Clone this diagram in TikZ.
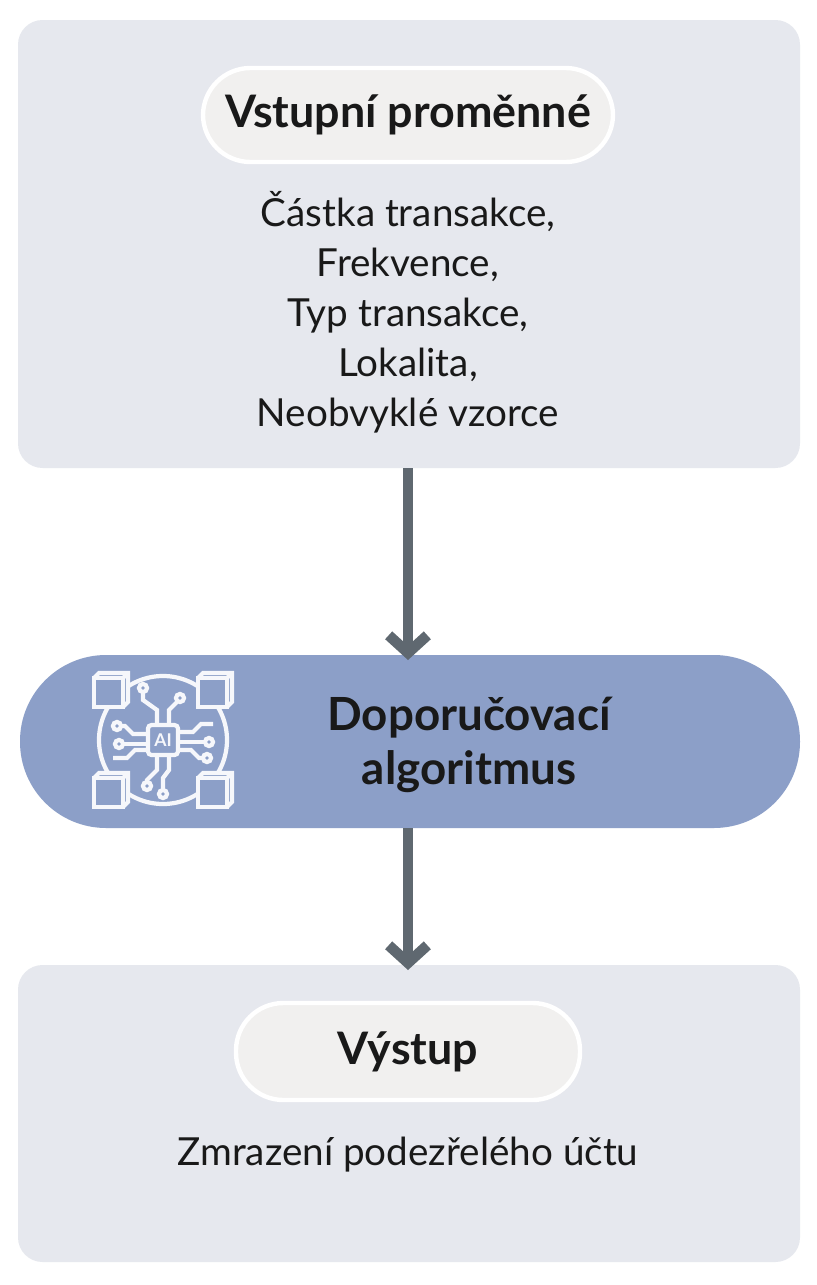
\documentclass[tikz,border=0pt]{standalone}
\usepackage{fontspec}
\setmainfont{Lato}
\usetikzlibrary{positioning,arrows.meta}
\definecolor{panelgray}{HTML}{E6E8EE}
\definecolor{pillwhite}{HTML}{F1F0EF}
\definecolor{algoblue}{HTML}{8C9FC8}
\definecolor{arrowgray}{HTML}{5F6870}
\begin{document}
\begin{tikzpicture}[x=0.02cm, y=-0.02cm,
  panel/.style={fill=panelgray, draw=none, rounded corners=14pt},
  pill/.style={fill=pillwhite, draw=white, line width=2.5pt, rounded corners=27pt},
  title/.style={font=\fontsize{25.5}{30}\selectfont\bfseries, text=black!90},
  body/.style={font=\fontsize{22}{28.5}\selectfont, text=black!90, align=center},
  flow/.style={draw=arrowgray, line width=6pt, -{Straight Barb[length=10pt, width=22pt, line width=6pt]}},
  iconline/.style={draw=white!92!algoblue, line width=2.4pt}]

%─────────────
% Canvas
%─────────────
\useasboundingbox[fill=white] (0,0) rectangle (816,1285);

%─────────────
% Input panel
%─────────────
\fill[panelgray, rounded corners=14pt] (18,20) rectangle (800,468);
\draw[pill] (203,68) rectangle (613,162);
\node[title] (intitle) at (408,115) {Vstupní proměnné};
\node[body] (inbody) at (408,312) {Částka transakce,\\Frekvence,\\Typ transakce,\\Lokalita,\\Neobvyklé vzorce};
\coordinate (inbottom) at (408,468);

%─────────────
% Algorithm
%─────────────
\fill[algoblue, rounded corners=49pt] (20,655) rectangle (800,828);
\node[title, align=center, font=\fontsize{26}{31}\selectfont\bfseries] (algo) at (469,745) {Doporučovací\\algoritmus};
\coordinate (algotop) at (408,655);
\coordinate (algobottom) at (408,828);

% AI icon
\begin{scope}[shift={(163,740)}]
  \draw[iconline] (0,0) circle (64);
  \foreach \sx/\sy in {-1/-1, 1/-1, -1/1, 1/1} {
    \fill[algoblue] (\sx*52-19,\sy*50-19) rectangle (\sx*52+19,\sy*50+19);
    \draw[iconline] (\sx*52-17,\sy*50-12) rectangle (\sx*52+12,\sy*50+17);
    \draw[iconline] (\sx*52-17,\sy*50-12) -- (\sx*52-12,\sy*50-17) -- (\sx*52+17,\sy*50-17)
      -- (\sx*52+17,\sy*50+12) -- (\sx*52+12,\sy*50+17);
    \draw[iconline] (\sx*52+12,\sy*50-12) -- (\sx*52+17,\sy*50-17);
  }
  \draw[iconline, rounded corners=2pt] (-15,-15) rectangle (15,15);
  \node[text=white!92!algoblue, font=\fontsize{10}{10}\selectfont\bfseries] (ailabel) at (0,0) {AI};
  % traces
  \draw[iconline] (-6,-15) -- (-6,-30) -- (-20,-40) -- (-20,-48);
  \draw[iconline] (6,-15) -- (6,-30) -- (14,-38);
  \draw[iconline] (-15,-6) -- (-30,-6) -- (-38,-14) -- (-42,-14);
  \draw[iconline] (-15,4) -- (-40,4);
  \draw[iconline] (-15,10) -- (-28,10) -- (-36,18) -- (-50,18);
  \draw[iconline] (15,-8) -- (30,-8) -- (38,-16) -- (50,-16);
  \draw[iconline] (15,2) -- (42,2);
  \draw[iconline] (15,10) -- (28,10) -- (36,18) -- (40,18);
  \draw[iconline] (-6,15) -- (-6,30) -- (-16,40) -- (-16,42);
  \draw[iconline] (6,15) -- (6,30) -- (0,38) -- (0,50);
  \foreach \px/\py in {-20/-52, 17/-42, -46/-14, -44/4, 46/2, 44/18, -16/46, 0/54} {
    \draw[iconline, fill=algoblue] (\px,\py) circle (4);
  }
\end{scope}

%─────────────
% Output panel
%─────────────
\fill[panelgray, rounded corners=14pt] (18,965) rectangle (800,1262);
\draw[pill] (236,1003) rectangle (580,1100);
\node[title] (outtitle) at (408,1052) {Výstup};
\node[body] (outbody) at (408,1155) {Zmrazení podezřelého účtu};
\coordinate (outtop) at (408,965);

%─────────────
% Connectors
%─────────────
\draw[flow] (inbottom) -- ([yshift=-0.1cm]algotop);
\draw[flow] (algobottom) -- ([yshift=-0.1cm]outtop);

\end{tikzpicture}
\end{document}
